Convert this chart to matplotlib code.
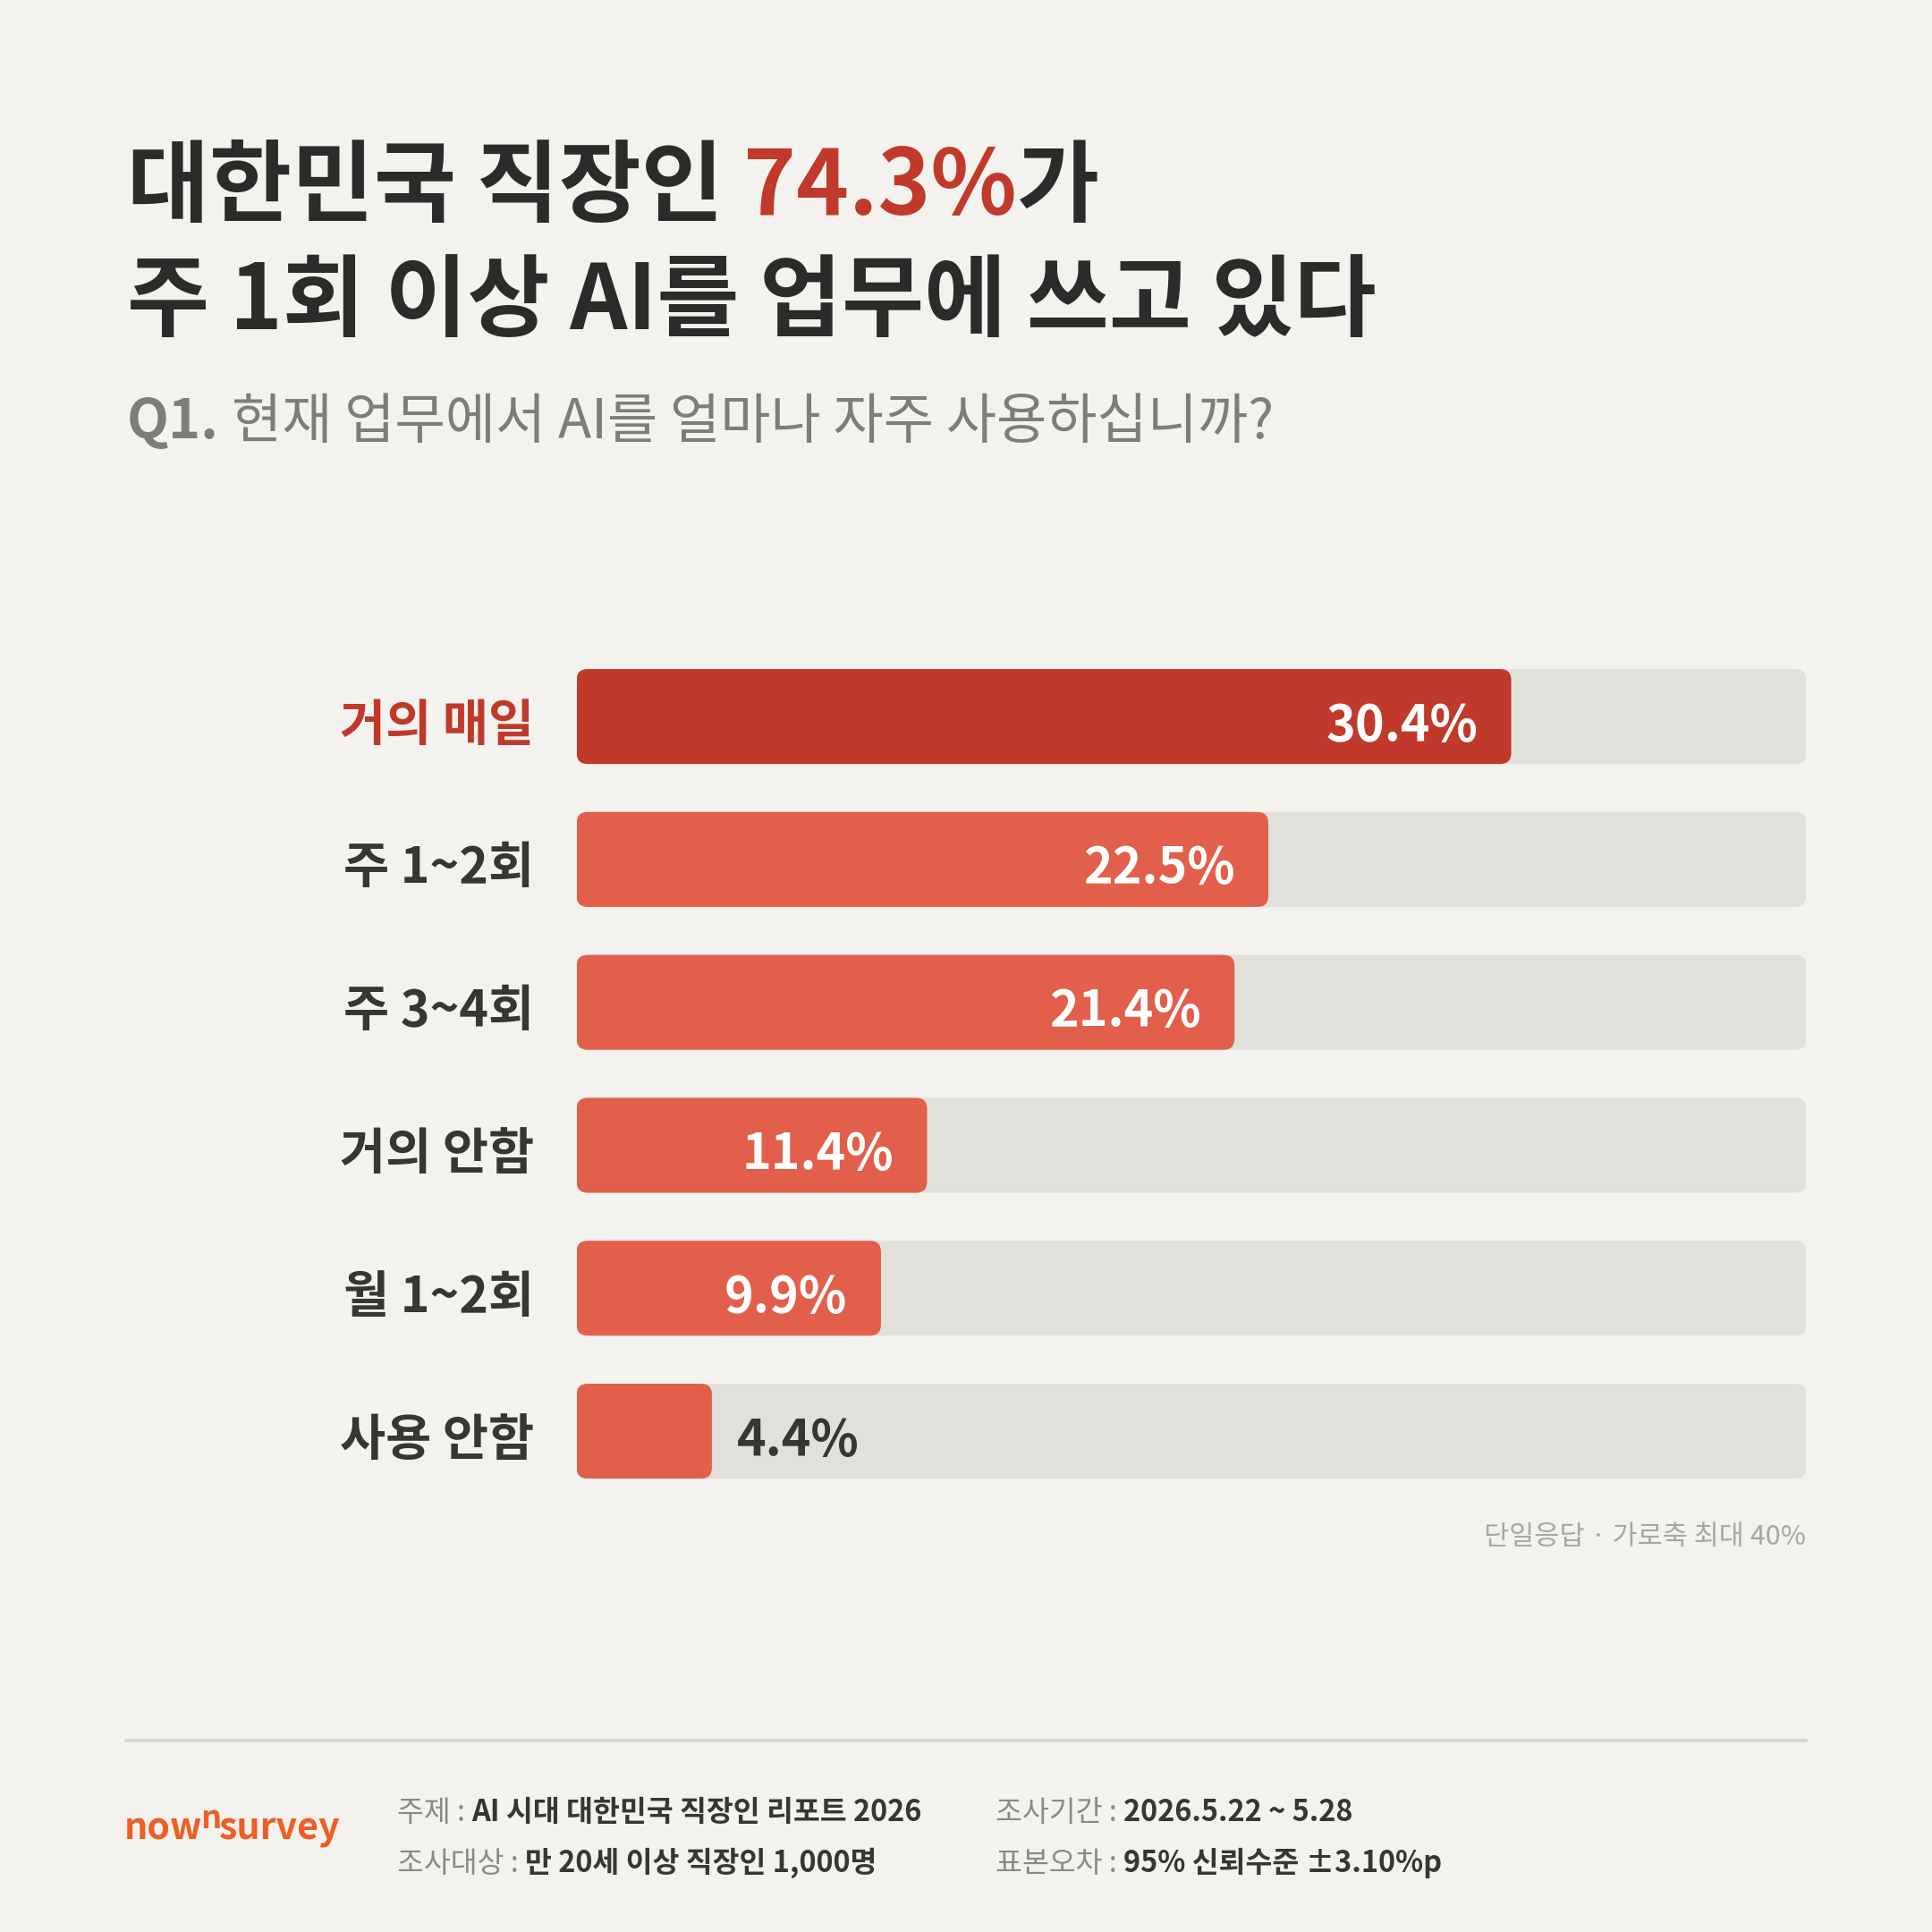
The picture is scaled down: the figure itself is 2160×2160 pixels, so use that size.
import matplotlib
matplotlib.use("Agg")
import matplotlib.pyplot as plt
from matplotlib.patches import FancyBboxPatch

plt.rcParams['font.family'] = ['Noto Sans CJK KR', 'DejaVu Sans']

# data
categories = ['거의 매일', '주 1~2회', '주 3~4회', '거의 안함', '월 1~2회', '사용 안함']
values = [30.4, 22.5, 21.4, 11.4, 9.9, 4.4]
axis_max = 40

title_parts = [('대한민국 직장인', 'dark'), (' ', None), ('74.3%', 'red'), ('가', 'dark')]
title_line2 = '주 1회 이상 AI를 업무에 쓰고 있다'
q_label = 'Q1.'
q_text = '현재 업무에서 AI를 얼마나 자주 사용하십니까?'
note = '단일응답 · 가로축 최대 40%'
footer_left = [('주제 :', 'AI 시대 대한민국 직장인 리포트 2026'),
               ('조사대상 :', '만 20세 이상 직장인 1,000명')]
footer_right = [('조사기간 :', '2026.5.22 ~ 5.28'),
                ('표본오차 :', '95% 신뢰수준 ±3.10%p')]

BG = '#F3F2EE'
TRACK = '#E2E0DB'
RED = '#C0392B'
BAR = '#E25F4B'
DARK = '#2B2B2A'
TXT = '#363633'
GRAY = '#7D7D7A'
ORANGE = '#EE5E25'

S = 1568.0  # layout units of the design


def fx(x):
    return x / S


def fy(y):
    return 1 - y / S


fig = plt.figure(figsize=(10.8, 10.8), dpi=200, facecolor=BG)
W_PX = fig.get_figwidth() * fig.dpi
rend = fig.canvas.get_renderer()


def text_w(s, **kw):
    t = fig.text(0, 0, s, **kw)
    w = t.get_window_extent(renderer=rend).width
    t.remove()
    return w / W_PX


def space_w(**kw):
    return text_w('가 가', **kw) - text_w('가가', **kw)


def runs(x, y, parts):
    # parts: list of (text, kwargs); draws them one after the other
    for s, kw in parts:
        if s == ' ':
            x += space_w(**kw)
            continue
        t = fig.text(x, y, s, va='baseline', ha='left', **kw)
        x += t.get_window_extent(renderer=rend).width / W_PX
    return x


# title
tkw = dict(fontsize=36, fontweight='black')
cmap = {'dark': DARK, 'red': RED, None: DARK}
runs(fx(103), fy(174), [(s, dict(color=cmap[c], **tkw)) for s, c in title_parts])
fig.text(fx(103), fy(267), title_line2, color=DARK, va='baseline', **tkw)

# question
qkw = dict(fontsize=22, color=GRAY)
runs(fx(103), fy(356), [(q_label, dict(fontweight='bold', **qkw)),
                        (' ', dict(fontweight='regular', **qkw)),
                        (q_text, dict(fontweight='regular', **qkw))])

# bar chart
pitch = 116.0
bar_h = 0.664
ax_left, ax_right = 468, 1466
ax_top = 543
ax_h = (len(categories) - 1 + bar_h) * pitch
ax = fig.add_axes([fx(ax_left), fy(ax_top + ax_h), (ax_right - ax_left) / S, ax_h / S])
ax.set_xlim(0, axis_max)
ax.set_ylim(len(categories) - 1 + bar_h / 2, -bar_h / 2)
ax.patch.set_alpha(0)
for sp in ax.spines.values():
    sp.set_visible(False)
ax.set_xticks([])
ax.set_yticks([])

px_x = (ax_right - ax_left) / axis_max
asp = px_x / pitch
rad = 9 / px_x
dy = -3.8  # labels sit a touch below the bar centre in the reference
for i, (cat, v) in enumerate(zip(categories, values)):
    ax.annotate(cat, xy=(0, i), xytext=(-17, dy), textcoords='offset points',
                ha='right', va='center', fontsize=20, fontweight='bold',
                color=RED if i == 0 else TXT)
    track = FancyBboxPatch((0, i - bar_h / 2), axis_max, bar_h,
                           boxstyle=f'round,pad=0,rounding_size={rad}',
                           mutation_aspect=asp, fc=TRACK, ec='none')
    ax.add_patch(track)
    bar = FancyBboxPatch((0, i - bar_h / 2), v, bar_h,
                         boxstyle=f'round,pad=0,rounding_size={rad}',
                         mutation_aspect=asp, fc=RED if i == 0 else BAR, ec='none')
    ax.add_patch(bar)
    if v >= 8:
        ax.annotate(f'{v}%', xy=(v, i), xytext=(-13.5, dy), textcoords='offset points',
                    ha='right', va='center', color='white', fontsize=20, fontweight='bold')
    else:
        ax.annotate(f'{v}%', xy=(v, i), xytext=(10, dy), textcoords='offset points',
                    ha='left', va='center', color=TXT, fontsize=20, fontweight='bold')

fig.text(fx(1466), fy(1254), note, ha='right', va='baseline', fontsize=11, color='#A9A7A2')

# footer
fig.add_artist(plt.Line2D([fx(102), fx(1466)], [fy(1413), fy(1413)], color='#D6D4CF', lw=1.3))

lkw = dict(color=ORANGE, fontweight='bold')
x_n = runs(fx(101), fy(1493), [('now', dict(fontsize=14.8, **lkw))]) - 0.0012
x_s = runs(x_n, fy(1484), [('n', dict(fontsize=13, **lkw))]) - 0.0012
runs(x_s, fy(1493), [('survey', dict(fontsize=14.8, **lkw))])

fkw_l = dict(fontsize=11.7, color='#8A8985', fontweight='regular')
fkw_v = dict(fontsize=11.7, color=TXT, fontweight='bold')
for col_x, rows in [(322, footer_left), (808, footer_right)]:
    for j, (lab, val) in enumerate(rows):
        y = fy(1478 + j * 41)
        runs(fx(col_x), y, [(lab, fkw_l), (' ', fkw_l), (val, fkw_v)])

fig.savefig('out.png', dpi=200, facecolor=BG)
